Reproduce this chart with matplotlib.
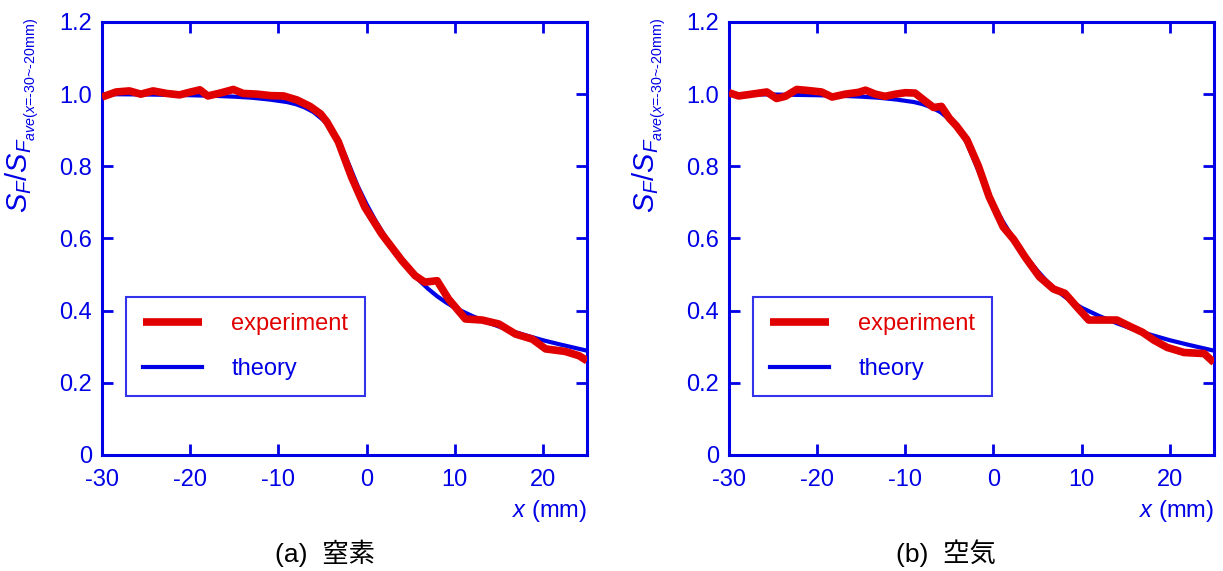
import matplotlib
matplotlib.use("Agg")
import matplotlib.pyplot as plt

plt.rcParams['font.family'] = ['Liberation Sans', 'Noto Sans CJK JP', 'DejaVu Sans']
plt.rcParams['mathtext.fontset'] = 'custom'
plt.rcParams['mathtext.rm'] = 'Liberation Sans'
plt.rcParams['mathtext.it'] = 'Liberation Sans:italic'
plt.rcParams['axes.unicode_minus'] = False

BLUE = '#0000e6'
RED = '#e00000'

# theory curve (same for both panels)
x_th = [-30, -25, -20, -17, -15, -13, -11, -9, -8, -7, -6, -5, -4, -3, -2, -1, 0,
        1, 2, 3, 4, 5, 6, 7, 8, 9, 10, 12, 14, 16, 18, 20, 22, 25]
y_th = [1.0, 0.999, 0.997, 0.995, 0.993, 0.99, 0.985, 0.978, 0.972, 0.963, 0.950, 0.930, 0.905, 0.864,
        0.805, 0.745, 0.695, 0.65, 0.61, 0.573, 0.54, 0.51, 0.483, 0.46, 0.44, 0.423, 0.408,
        0.385, 0.365, 0.347, 0.332, 0.318, 0.306, 0.289]

# (a) nitrogen experiment
xa_exp = [-30, -28.4, -26.9, -25.6, -24.2, -22.7, -21.2, -20.1, -18.9, -18.0, -16.6, -15.1,
          -14.0, -12.4, -10.9, -9.4, -7.9, -6.4, -5.2, -4.5, -3.2, -1.7, -0.2, 1.7, 4.0,
          5.5, 6.6, 8.0, 9.3, 11.2, 13.1, 15.0, 16.9, 18.8, 20.3, 22.5, 24.1, 25]
ya_exp = [0.992, 1.006, 1.009, 1.0, 1.009, 1.002, 0.998, 1.005, 1.012, 0.995, 1.003, 1.013,
          1.002, 1.0, 0.996, 0.995, 0.984, 0.966, 0.945, 0.923, 0.868, 0.770, 0.687, 0.613,
          0.539, 0.497, 0.479, 0.483, 0.432, 0.377, 0.374, 0.363, 0.335, 0.321, 0.294,
          0.287, 0.275, 0.261]

# (b) air experiment
xb_exp = [-30, -28.9, -27.4, -25.7, -24.6, -23.6, -22.3, -21.0, -19.5, -18.3, -16.8, -15.3,
          -14.5, -13.4, -12.3, -11.1, -10.0, -8.9, -7.7, -6.8, -5.9, -5.0, -4.2, -3.0, -1.7,
          -0.5, 1.1, 2.3, 3.6, 5.2, 6.8, 8.1, 9.5, 10.8, 12.3, 14.0, 15.5, 16.9, 18.2, 19.7,
          21.6, 23.9, 25]
yb_exp = [1.004, 0.995, 1.0, 1.006, 0.988, 0.994, 1.013, 1.01, 1.006, 0.992, 1.0, 1.005,
          1.011, 1.0, 0.994, 1.0, 1.004, 1.003, 0.98, 0.963, 0.966, 0.933, 0.912, 0.873, 0.8,
          0.716, 0.632, 0.597, 0.548, 0.494, 0.46, 0.448, 0.409, 0.374, 0.374, 0.374, 0.356,
          0.34, 0.318, 0.298, 0.284, 0.281, 0.256]

x_ticks = [-30, -20, -10, 0, 10, 20]
y_ticks = [0, 0.2, 0.4, 0.6, 0.8, 1.0, 1.2]
y_ticklabels = ['0', '0.2', '0.4', '0.6', '0.8', '1.0', '1.2']

panels = [
    ('(a)  窒素', xa_exp, ya_exp, 0.2657),
    ('(b)  空気', xb_exp, yb_exp, 0.7735),
]

fig = plt.figure(figsize=(12.23, 5.71), dpi=100)
lefts = [0.0834, 0.596]

for left, (caption, xe, ye, cap_x) in zip(lefts, panels):
    ax = fig.add_axes([left, 0.2032, 0.3966, 0.7583])
    ax.plot(x_th, y_th, color=BLUE, lw=3, label='theory', zorder=2)
    ax.plot(xe, ye, color=RED, lw=5.5, label='experiment', zorder=3,
            solid_joinstyle='round', solid_capstyle='butt')
    ax.set_xlim(-30, 25)
    ax.set_ylim(0, 1.2)
    ax.set_xticks(x_ticks)
    ax.set_yticks(y_ticks)
    ax.set_yticklabels(y_ticklabels)
    for s in ax.spines.values():
        s.set_color(BLUE)
        s.set_linewidth(2.2)
    ax.tick_params(direction='in', length=8, width=2, colors=BLUE, labelsize=17,
                   top=True, right=True, pad=7)
    ax.tick_params(axis='x', pad=10)
    ax.set_xlabel(r'$x$ (mm)', color=BLUE, fontsize=17, ha='right')
    ax.xaxis.set_label_coords(1.0, -0.1)
    ax.set_ylabel(r'$S_F/S_{F_{ave\text{(}x\text{=-30~-20mm)}}}$', color=BLUE, fontsize=21)
    ax.yaxis.set_label_coords(-0.125, 0.785)

    handles, labels = ax.get_legend_handles_labels()
    leg = ax.legend(handles[::-1], labels[::-1], loc='upper left',
                    bbox_to_anchor=(0.05, 0.365), borderaxespad=0, fontsize=17,
                    frameon=True, fancybox=False, handlelength=2.5, handletextpad=1.25,
                    labelspacing=0.95, borderpad=0.7, labelcolor='linecolor')
    leg.get_frame().set_edgecolor(BLUE)
    leg.get_frame().set_linewidth(1.5)
    leg.set_zorder(1)

    fig.text(cap_x, 0.0315, caption, ha='center', va='center',
             fontsize=19, color='black', family=['Liberation Sans', 'Noto Sans CJK JP'])

fig.savefig('out.png', dpi=100)
